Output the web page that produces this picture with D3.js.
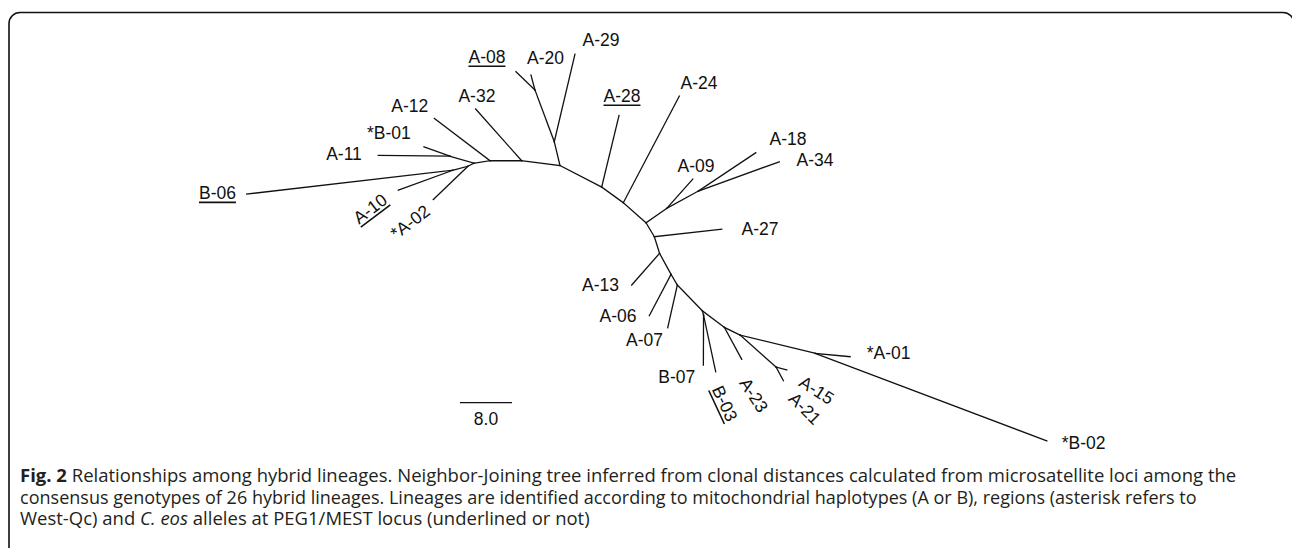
<!DOCTYPE html>
<html>
<head>
<meta charset="utf-8">
<script src="https://cdn.jsdelivr.net/npm/d3@7"></script>
<style>
  html, body { margin: 0; padding: 0; background: #fff; }
  svg { display: block; }
</style>
</head>
<body>
<svg id="chart" width="1292" height="548"></svg>
<script>
// ---- Tree data (unrooted Neighbor-Joining tree, distances in clonal-distance units) ----
// Nodes are listed parent-before-child; internal nodes carry no label.
const nodeIds = [
  "B2", "B1", "A-32", "L0", "A-12", "N1", "N2", "A-11", "*B-01", "N3", "*A-02", "B-06", "A-10",
  "C1", "A-29", "C2", "A-08", "A-20",
  "B4", "A-28", "B5", "A-24", "B6", "D1", "A-09", "D2", "A-18", "A-34",
  "B7", "A-27", "B8", "A-13", "B9", "A-06", "B10", "A-07", "B11", "E1", "B-07", "B-03",
  "B12", "A-23", "B13", "F1", "A-15", "A-21", "G1", "*A-01", "*B-02"
];
const parentIds = [
  "B3", "B2", "B2", "B1", "B1", "L0", "L0", "N1", "N1", "N2", "N2", "N3", "N3",
  "B3", "C1", "C1", "C2", "C2",
  "B3", "B4", "B4", "B5", "B5", "B6", "D1", "D1", "D2", "D2",
  "B6", "B7", "B7", "B8", "B8", "B9", "B9", "B10", "B10", "B11", "E1", "E1",
  "B11", "B12", "B12", "B13", "F1", "F1", "B13", "G1", "G1"
];
const branchLengths = [
  5.94, 4.88, 10.65, 2.49, 10.75, 3.85, 1.03, 11.03, 4.25, 2.39, 7.40, 31.95, 8.96,
  3.77, 13.82, 8.49, 4.06, 2.39,
  7.22, 11.32, 4.11, 18.54, 4.66, 3.88, 6.03, 5.54, 10.62, 13.25,
  2.50, 10.43, 2.68, 6.49, 3.68, 7.19, 1.91, 6.73, 5.52, 0.69, 7.69, 8.92,
  4.24, 5.60, 2.69, 7.41, 1.71, 2.39, 11.88, 5.41, 38.11
];
// Drawing direction of each branch (degrees, clockwise from east)
const branchAngles = [
  -172.9, 180, -131.7, 171.1, -142.8, -163.7, 153.4, -179.4, -160.3, 165.1, 136.2, 173.4, 159.9,
  -103.5, -76.7, -110.5, -136.1, -104.9,
  27.3, -76.4, 36.0, -62.3, 41.4, -34.8, -48.4, -28.7, -33.7, -19.9,
  59.3, -6.3, 72.6, 131.3, 61.3, 117.7, 59.5, 102.7, 45.8, 74.4, 90.2, 77.9,
  37.0, 61.5, 26.1, 41.6, 15.7, 61.9, 13.7, 5.5, 20.7
];
const rootId = "B3";

// Lineages carrying C. eos alleles at PEG1/MEST (underlined)
const ceosLineages = ["B-06", "A-10", "A-08", "A-28", "B-03"];

const scaleBarValue = 8.0;

// ---- Label placement: offset of label centre from tip, rotation (deg) ----
const labelPlacement = {
  "A-11": [-34.3, -1.3, 0],   "*B-01": [-35, -13.7, 0],  "B-06": [-29.2, -1, 0],
  "A-10": [-28.3, 18.3, -37], "*A-02": [-23.3, 22.4, -37],
  "A-12": [-24.6, -12.3, 0],  "A-32": [1.3, -13, 0],     "A-08": [-29, -14.7, 0],
  "A-20": [14.5, -17.5, 0],   "A-29": [26, -14.8, 0],    "A-28": [3, -19.5, 0],
  "A-24": [19.7, -13, 0],     "A-09": [3.3, -13, 0],     "A-18": [32.3, -13.7, 0],
  "A-34": [35.7, -1.7, 0],    "A-27": [38.3, -0.6, 0],   "A-13": [-31.2, 0, 0],
  "A-06": [-31.3, 0.3, 0],    "A-07": [-23.2, 12.3, 0],  "B-07": [-26.6, 12, 0],
  "B-03": [9.3, 31.6, 65],    "A-23": [12.3, 35.7, 57],  "A-15": [30, 20, 33],
  "A-21": [21.7, 27.6, 45],   "*A-01": [38.5, -3.7, 0],  "*B-02": [36.9, 2.3, 0]
};

// ---- Caption ----
const captionLines = [
  [["Fig. 2", "bold"], [" Relationships among hybrid lineages. Neighbor-Joining tree inferred from clonal distances calculated from microsatellite loci among the", "normal"]],
  [["consensus genotypes of 26 hybrid lineages. Lineages are identified according to mitochondrial haplotypes (A or B), regions (asterisk refers to", "normal"]],
  [["West-Qc) and ", "normal"], ["C. eos", "italic"], [" alleles at PEG1/MEST locus (underlined or not)", "normal"]]
];

// ---- Layout ----
const svg = d3.select("#chart");
const labelFont = "'Liberation Sans', Arial, Helvetica, sans-serif";
const labelSize = 17.5;
const unitPx = 6.5;

// Frame (rounded top corners, open towards the bottom edge)
svg.append("rect")
  .attr("x", 9).attr("y", 12.5)
  .attr("width", 1285).attr("height", 600)
  .attr("rx", 11).attr("ry", 11)
  .attr("fill", "none").attr("stroke", "#111").attr("stroke-width", 1.6);

// Node coordinates in distance units, root at origin
const pos = { [rootId]: { x: 0, y: 0 } };
nodeIds.forEach((id, i) => {
  const p = pos[parentIds[i]];
  const a = branchAngles[i] * Math.PI / 180;
  pos[id] = { x: p.x + branchLengths[i] * Math.cos(a), y: p.y + branchLengths[i] * Math.sin(a) };
});

const x = d3.scaleLinear().domain([0, 1]).range([560, 560 + unitPx]);
const y = d3.scaleLinear().domain([0, 1]).range([165.5, 165.5 + unitPx]);

const branches = nodeIds.map((id, i) => ({ child: id, parent: parentIds[i] }));
const parentSet = new Set(parentIds);
const leaves = nodeIds.filter(id => !parentSet.has(id));

const gTree = svg.append("g");
gTree.selectAll("line.branch")
  .data(branches)
  .join("line")
  .attr("class", "branch")
  .attr("x1", d => x(pos[d.parent].x)).attr("y1", d => y(pos[d.parent].y))
  .attr("x2", d => x(pos[d.child].x)).attr("y2", d => y(pos[d.child].y))
  .attr("stroke", "#111").attr("stroke-width", 1.3).attr("stroke-linecap", "square");

// Leaf labels
const capHalf = labelSize * 0.716 / 2;
const lab = gTree.selectAll("g.leaf")
  .data(leaves)
  .join("g")
  .attr("class", "leaf")
  .attr("transform", d => {
    const [dx, dy, rot] = labelPlacement[d];
    return `translate(${x(pos[d].x) + dx},${y(pos[d].y) + dy}) rotate(${rot})`;
  });
lab.append("text")
  .attr("text-anchor", "middle")
  .attr("y", capHalf)
  .attr("font-family", labelFont)
  .attr("font-size", labelSize)
  .attr("fill", "#111")
  .text(d => d);
lab.filter(d => ceosLineages.includes(d)).each(function () {
  const g = d3.select(this);
  const w = g.select("text").node().getComputedTextLength();
  g.append("line")
    .attr("x1", -w / 2).attr("x2", w / 2)
    .attr("y1", capHalf + 3).attr("y2", capHalf + 3)
    .attr("stroke", "#111").attr("stroke-width", 1.6);
});

// Scale bar
const barLen = x(scaleBarValue) - x(0);
const barX = 460, barY = 402.7;
svg.append("line")
  .attr("x1", barX).attr("x2", barX + barLen)
  .attr("y1", barY).attr("y2", barY)
  .attr("stroke", "#111").attr("stroke-width", 1.3);
svg.append("text")
  .attr("x", barX + barLen / 2).attr("y", 419 + capHalf)
  .attr("text-anchor", "middle")
  .attr("font-family", labelFont).attr("font-size", labelSize)
  .attr("fill", "#111")
  .text(scaleBarValue.toFixed(1));

// Caption: a narrow look obtained by horizontally compressing each line
const capBase = [482, 503.5, 525];
const capLeft = 20;
const lineWidths = [1217, 1177, null];   // null: keep the first line's compression
const capTexts = captionLines.map((parts) => {
  const t = svg.append("text")
    .attr("x", 0).attr("y", 0)
    .attr("font-family", "'Open Sans', 'Noto Sans', sans-serif")
    .attr("font-size", 17.5)
    .attr("fill", "#231f20");
  parts.forEach(([s, style]) => {
    const ts = t.append("tspan").text(s);
    if (style === "bold") ts.attr("font-weight", "bold");
    if (style === "italic") ts.attr("font-style", "italic");
  });
  return t;
});
const baseScale = lineWidths[0] / capTexts[0].node().getComputedTextLength();
capTexts.forEach((t, i) => {
  const s = lineWidths[i] ? lineWidths[i] / t.node().getComputedTextLength() : baseScale;
  t.attr("transform", `translate(${capLeft},${capBase[i]}) scale(${s},1)`);
});
</script>
</body>
</html>
